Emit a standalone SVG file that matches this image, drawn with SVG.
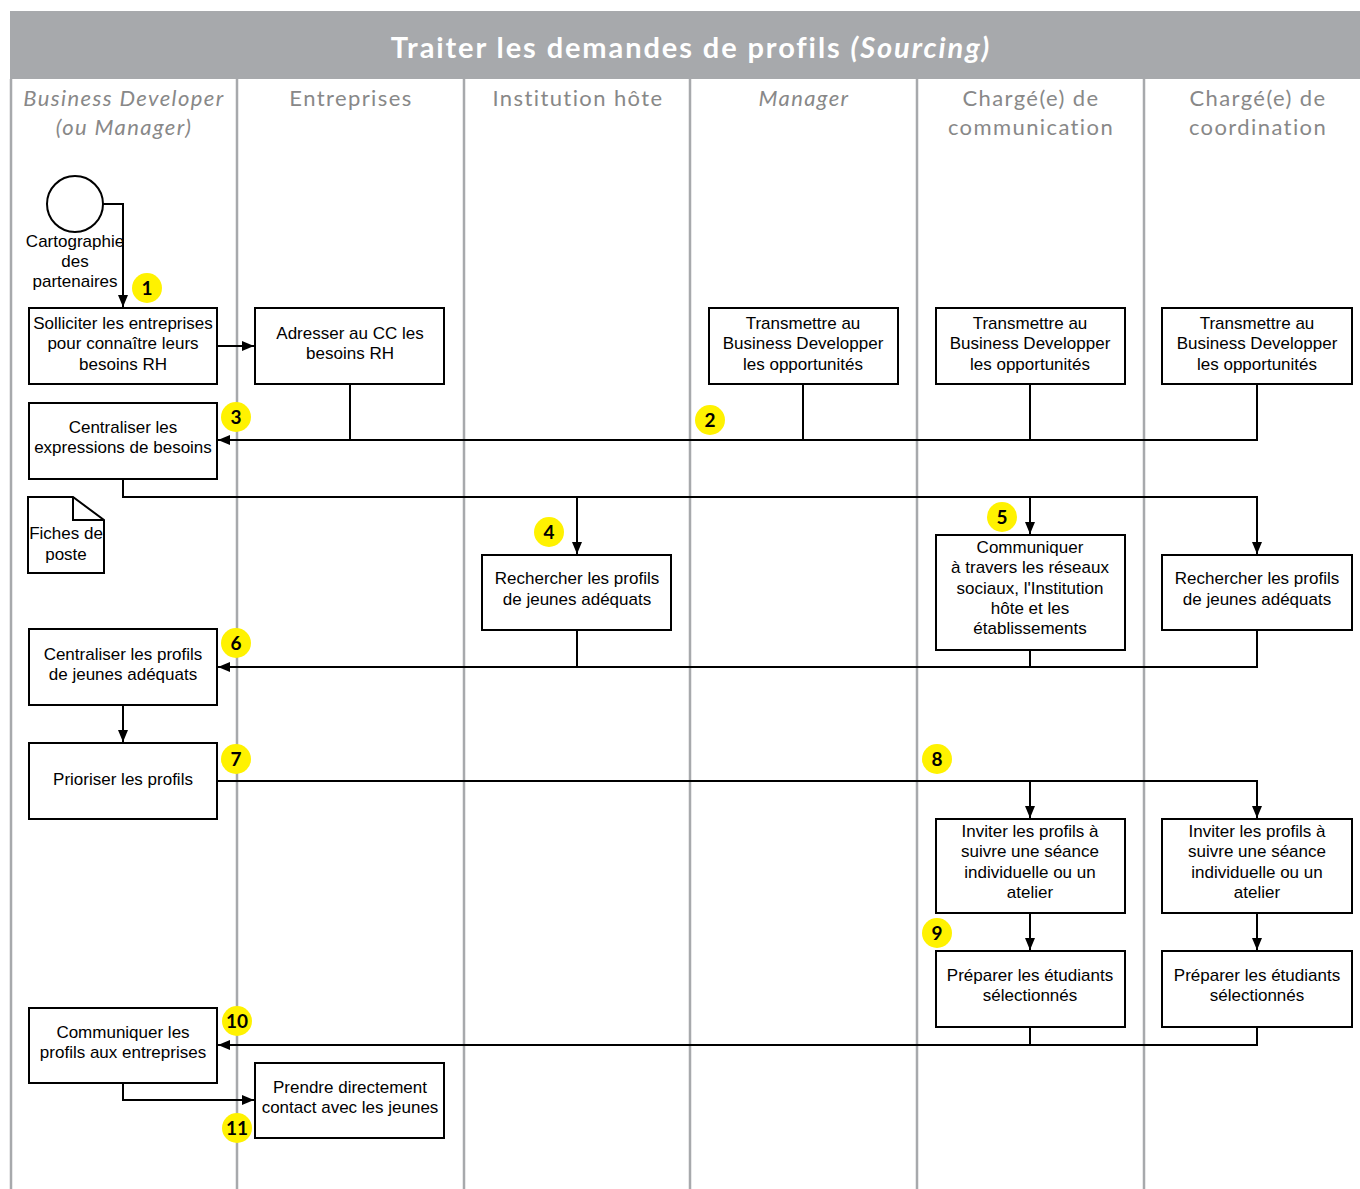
<svg xmlns="http://www.w3.org/2000/svg" width="1360" height="1189" viewBox="0 0 1360 1189">
<style>
.lane{stroke:#a7a9ac;stroke-width:2.5;fill:none}
.hdr{font-family:Lato,"Open Sans",sans-serif;font-size:22px;letter-spacing:1.4px;fill:#888;text-anchor:middle}
.it{font-style:italic}
.box{fill:#fff;stroke:#000;stroke-width:2}
.t{font-family:"Liberation Sans",Arial,sans-serif;font-size:17px;fill:#000;text-anchor:middle}
.c{fill:none;stroke:#000;stroke-width:2}
.b circle{fill:#fff200}
.b text{font-family:Lato,"Liberation Sans",sans-serif;font-weight:bold;font-size:19px;fill:#000;text-anchor:middle}
</style>
<defs>
<marker id="ah" viewBox="0 0 12 10" refX="12" refY="5" markerWidth="12" markerHeight="10" markerUnits="userSpaceOnUse" orient="auto">
<path d="M0,0 L12,5 L0,10 Z" fill="#000"/>
</marker>
</defs>
<rect width="1360" height="1189" fill="#fff"/>
<rect x="10" y="11" width="1350" height="68" fill="#a7a9ac"/>
<text x="691" y="58" font-family="Lato,'Open Sans',sans-serif" font-weight="bold" font-size="29" letter-spacing="1.9" fill="#fff" text-anchor="middle">Traiter les demandes de profils <tspan font-style="italic">(Sourcing)</tspan></text>
<g id="lanes">
<line class="lane" x1="11" y1="79" x2="11" y2="1189"/>
<line class="lane" x1="237" y1="79" x2="237" y2="1189"/>
<line class="lane" x1="464" y1="79" x2="464" y2="1189"/>
<line class="lane" x1="690" y1="79" x2="690" y2="1189"/>
<line class="lane" x1="917" y1="79" x2="917" y2="1189"/>
<line class="lane" x1="1144" y1="79" x2="1144" y2="1189"/>
<text class="hdr it" x="124" y="106">Business Developer</text>
<text class="hdr it" x="124" y="135">(ou Manager)</text>
<text class="hdr" x="351" y="106">Entreprises</text>
<text class="hdr" x="578" y="106">Institution hôte</text>
<text class="hdr it" x="804" y="106">Manager</text>
<text class="hdr" x="1031" y="106">Chargé(e) de</text>
<text class="hdr" x="1031" y="135">communication</text>
<text class="hdr" x="1258" y="106">Chargé(e) de</text>
<text class="hdr" x="1258" y="135">coordination</text>
</g>
<g id="connectors">
<path class="c" d="M103,204 H123 V307" marker-end="url(#ah)"/>
<path class="c" d="M217,346 H254" marker-end="url(#ah)"/>
<path class="c" d="M350,384 V440 M803,384 V440 M1030,384 V440 M1257,384 V440 H218" marker-end="url(#ah)"/>
<path class="c" d="M123,479 V497 H1257 V554" marker-end="url(#ah)"/>
<path class="c" d="M577,497 V554" marker-end="url(#ah)"/>
<path class="c" d="M1030,497 V534" marker-end="url(#ah)"/>
<path class="c" d="M577,630 V667 M1030,650 V667 M1257,630 V667 H218" marker-end="url(#ah)"/>
<path class="c" d="M123,705 V742" marker-end="url(#ah)"/>
<path class="c" d="M217,781 H1257 V818" marker-end="url(#ah)"/>
<path class="c" d="M1030,781 V818" marker-end="url(#ah)"/>
<path class="c" d="M1030,913 V950" marker-end="url(#ah)"/>
<path class="c" d="M1257,913 V950" marker-end="url(#ah)"/>
<path class="c" d="M1030,1027 V1045 M1257,1027 V1045 H218" marker-end="url(#ah)"/>
<path class="c" d="M123,1083 V1100 H254" marker-end="url(#ah)"/>
</g>
<g id="start">
<circle cx="75" cy="204" r="28" fill="#fff" stroke="#000" stroke-width="2"/>
<text class="t" x="75" y="247">Cartographie</text>
<text class="t" x="75" y="267">des</text>
<text class="t" x="75" y="287">partenaires</text>
</g>
<g id="n-solliciter"><rect class="box" x="29" y="308" width="188" height="76"/>
<text class="t" x="123" y="329">Solliciter les entreprises</text><text class="t" x="123" y="349">pour connaître leurs</text><text class="t" x="123" y="370">besoins RH</text></g>
<g id="n-adresser"><rect class="box" x="255" y="308" width="189" height="76"/>
<text class="t" x="350" y="339">Adresser au CC les</text><text class="t" x="350" y="359">besoins RH</text></g>
<g id="n-transmettre-m"><rect class="box" x="709" y="308" width="189" height="76"/>
<text class="t" x="803" y="329">Transmettre au</text><text class="t" x="803" y="349">Business Developper</text><text class="t" x="803" y="370">les opportunités</text></g>
<g id="n-transmettre-c"><rect class="box" x="936" y="308" width="189" height="76"/>
<text class="t" x="1030" y="329">Transmettre au</text><text class="t" x="1030" y="349">Business Developper</text><text class="t" x="1030" y="370">les opportunités</text></g>
<g id="n-transmettre-co"><rect class="box" x="1162" y="308" width="190" height="76"/>
<text class="t" x="1257" y="329">Transmettre au</text><text class="t" x="1257" y="349">Business Developper</text><text class="t" x="1257" y="370">les opportunités</text></g>
<g id="n-centraliser-exp"><rect class="box" x="29" y="403" width="188" height="76"/>
<text class="t" x="123" y="433">Centraliser les</text><text class="t" x="123" y="453">expressions de besoins</text></g>
<g id="n-fiches">
<path d="M28,497 H73 L104,520 V573 H28 Z" fill="#fff" stroke="#000" stroke-width="2"/>
<path d="M73,497 V520 H104" fill="none" stroke="#000" stroke-width="2"/>
<text class="t" x="66" y="539">Fiches de</text><text class="t" x="66" y="560">poste</text></g>
<g id="n-rech-inst"><rect class="box" x="482" y="555" width="189" height="75"/>
<text class="t" x="577" y="584">Rechercher les profils</text><text class="t" x="577" y="605">de jeunes adéquats</text></g>
<g id="n-communiquer-rs"><rect class="box" x="936" y="535" width="189" height="115"/>
<text class="t" x="1030" y="553">Communiquer</text><text class="t" x="1030" y="573">à travers les réseaux</text><text class="t" x="1030" y="594">sociaux, l'Institution</text><text class="t" x="1030" y="614">hôte et les</text><text class="t" x="1030" y="634">établissements</text></g>
<g id="n-rech-coord"><rect class="box" x="1162" y="555" width="190" height="75"/>
<text class="t" x="1257" y="584">Rechercher les profils</text><text class="t" x="1257" y="605">de jeunes adéquats</text></g>
<g id="n-centraliser-prof"><rect class="box" x="29" y="629" width="188" height="76"/>
<text class="t" x="123" y="660">Centraliser les profils</text><text class="t" x="123" y="680">de jeunes adéquats</text></g>
<g id="n-prioriser"><rect class="box" x="29" y="743" width="188" height="76"/>
<text class="t" x="123" y="785">Prioriser les profils</text></g>
<g id="n-inviter-c"><rect class="box" x="936" y="819" width="189" height="94"/>
<text class="t" x="1030" y="837">Inviter les profils à</text><text class="t" x="1030" y="857">suivre une séance</text><text class="t" x="1030" y="878">individuelle ou un</text><text class="t" x="1030" y="898">atelier</text></g>
<g id="n-inviter-co"><rect class="box" x="1162" y="819" width="190" height="94"/>
<text class="t" x="1257" y="837">Inviter les profils à</text><text class="t" x="1257" y="857">suivre une séance</text><text class="t" x="1257" y="878">individuelle ou un</text><text class="t" x="1257" y="898">atelier</text></g>
<g id="n-preparer-c"><rect class="box" x="936" y="951" width="189" height="76"/>
<text class="t" x="1030" y="981">Préparer les étudiants</text><text class="t" x="1030" y="1001">sélectionnés</text></g>
<g id="n-preparer-co"><rect class="box" x="1162" y="951" width="190" height="76"/>
<text class="t" x="1257" y="981">Préparer les étudiants</text><text class="t" x="1257" y="1001">sélectionnés</text></g>
<g id="n-communiquer-ent"><rect class="box" x="29" y="1008" width="188" height="75"/>
<text class="t" x="123" y="1038">Communiquer les</text><text class="t" x="123" y="1058">profils aux entreprises</text></g>
<g id="n-prendre"><rect class="box" x="255" y="1063" width="189" height="75"/>
<text class="t" x="350" y="1093">Prendre directement</text><text class="t" x="350" y="1113">contact avec les jeunes</text></g>
<g id="badges" class="b">
<g><circle cx="147" cy="288" r="15"/><text x="147" y="295">1</text></g>
<g><circle cx="710" cy="420" r="15"/><text x="710" y="427">2</text></g>
<g><circle cx="236" cy="417" r="15"/><text x="236" y="424">3</text></g>
<g><circle cx="549" cy="532" r="15"/><text x="549" y="539">4</text></g>
<g><circle cx="1002" cy="517" r="15"/><text x="1002" y="524">5</text></g>
<g><circle cx="236" cy="643" r="15"/><text x="236" y="650">6</text></g>
<g><circle cx="236" cy="759" r="15"/><text x="236" y="766">7</text></g>
<g><circle cx="937" cy="759" r="15"/><text x="937" y="766">8</text></g>
<g><circle cx="937" cy="933" r="15"/><text x="937" y="940">9</text></g>
<g><circle cx="237" cy="1021" r="15"/><text x="237" y="1028">10</text></g>
<g><circle cx="237" cy="1128" r="15"/><text x="237" y="1135">11</text></g>
</g>
</svg>
